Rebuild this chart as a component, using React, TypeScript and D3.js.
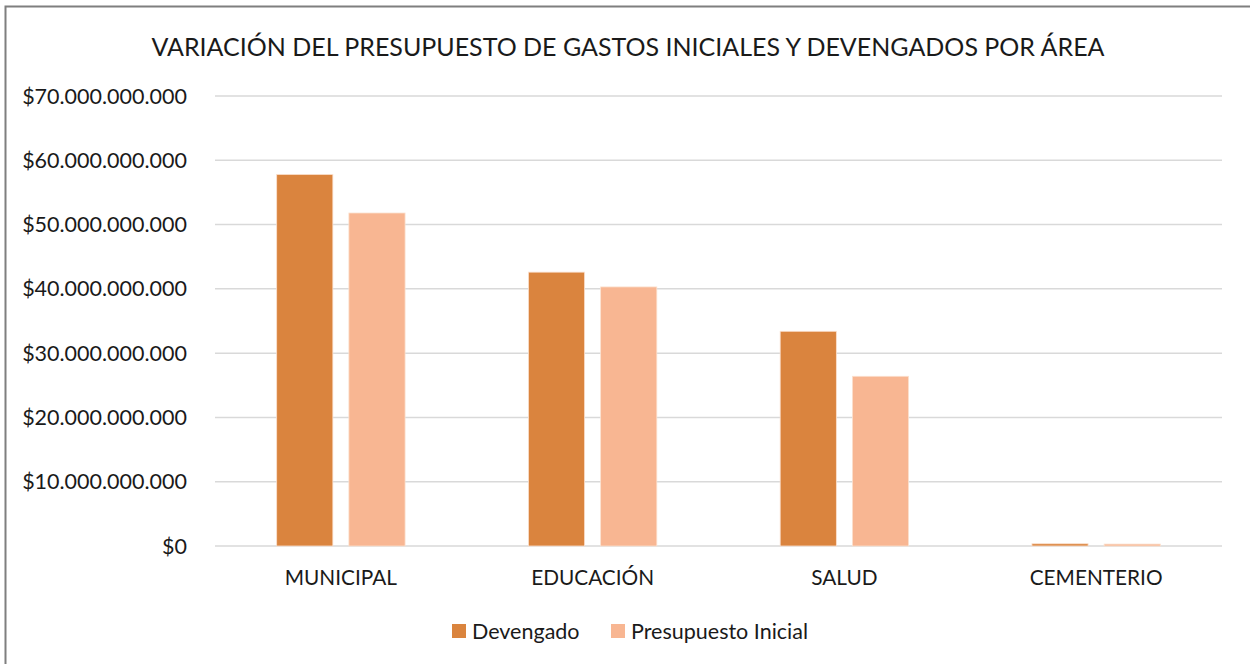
import React from 'react';
import * as d3 from 'd3';

const categories = ['MUNICIPAL', 'EDUCACIÓN', 'SALUD', 'CEMENTERIO'];
const seriesNames = ['Devengado', 'Presupuesto Inicial'];
const devengado = [57.8e9, 42.6e9, 33.4e9, 0.35e9];
const presupuestoInicial = [51.8e9, 40.3e9, 26.4e9, 0.3e9];
const yTicks = [0, 10e9, 20e9, 30e9, 40e9, 50e9, 60e9, 70e9];
const colors = ['#DA843E', '#F8B692'];

const W = 1250;
const H = 664;
const margin = { top: 96, right: 28, bottom: 118, left: 215 };
const FONT = 'Lato, "Open Sans", sans-serif';

const fmt = (v: number) => '$' + d3.format(',')(v).replace(/,/g, '.');

export default function App() {
  const innerW = W - margin.left - margin.right;
  const innerH = H - margin.top - margin.bottom;

  const x = d3.scaleBand<string>().domain(categories).range([0, innerW]).paddingInner(0).paddingOuter(0);
  const y = d3.scaleLinear().domain([0, 70e9]).range([innerH, 0]);
  const groupW = x.bandwidth() * 0.51;
  const x1 = d3.scaleBand<string>().domain(seriesNames).range([0, groupW]).paddingInner(0.222);
  const data = [devengado, presupuestoInicial];

  return (
    <svg width={W} height={H} style={{ position: 'absolute', left: 0, top: 0, background: '#fff' }} fontFamily={FONT}>
      <rect x={5.5} y={6.5} width={W + 20} height={H + 20} fill="#fff" stroke="#7f7f7f" strokeWidth={2} />
      <text x={628} y={56} textAnchor="middle" fontSize={25} fill="#1a1a1a">
        VARIACIÓN DEL PRESUPUESTO DE GASTOS INICIALES Y DEVENGADOS POR ÁREA
      </text>
      <g transform={`translate(${margin.left},${margin.top})`}>
        {yTicks.map((t) => (
          <g key={t}>
            <line x1={0} x2={innerW} y1={y(t)} y2={y(t)} stroke="#d9d9d9" strokeWidth={1.5} />
            <text x={-28} y={y(t)} dy="0.35em" textAnchor="end" fontSize={21.5} fill="#1a1a1a">
              {fmt(t)}
            </text>
          </g>
        ))}
        {categories.map((c, i) => {
          const gx = (x(c) as number) + (x.bandwidth() - groupW) / 2;
          return (
            <g key={c}>
              {seriesNames.map((s, j) => (
                <rect
                  key={s}
                  x={gx + (x1(s) as number)}
                  y={y(data[j][i])}
                  width={x1.bandwidth()}
                  height={innerH - y(data[j][i])}
                  fill={colors[j]}
                  stroke="#fbe1cf"
                  strokeWidth={0.8}
                />
              ))}
              <text x={(x(c) as number) + x.bandwidth() / 2} y={innerH + 39} textAnchor="middle" fontSize={20.8} fill="#1a1a1a">
                {c}
              </text>
            </g>
          );
        })}
      </g>
      <g>
        <rect x={452} y={624} width={14} height={14} fill={colors[0]} />
        <text x={472} y={631} dy="0.35em" fontSize={21.5} fill="#1a1a1a">{seriesNames[0]}</text>
        <rect x={611} y={624} width={14} height={14} fill={colors[1]} />
        <text x={631} y={631} dy="0.35em" fontSize={21.5} fill="#1a1a1a">{seriesNames[1]}</text>
      </g>
    </svg>
  );
}
